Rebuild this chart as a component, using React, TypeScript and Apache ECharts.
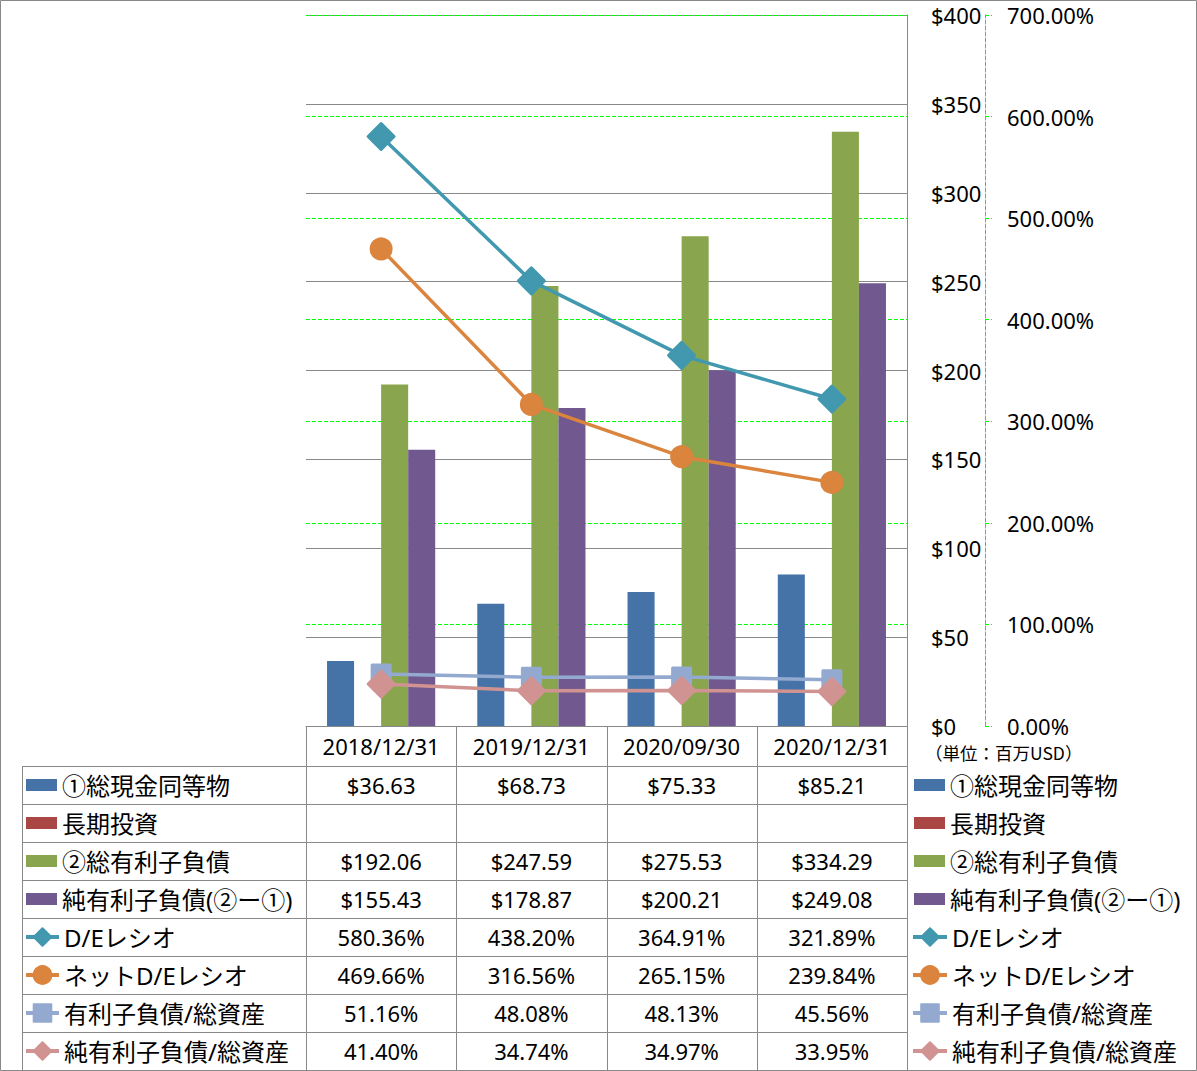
import React, { useEffect, useRef } from "react";
import * as echarts from "echarts";

const categories = ["2018/12/31", "2019/12/31", "2020/09/30", "2020/12/31"];
const cashEq = [36.63, 68.73, 75.33, 85.21];
const longInvest: (number | null)[] = [null, null, null, null];
const totalDebt = [192.06, 247.59, 275.53, 334.29];
const netDebt = [155.43, 178.87, 200.21, 249.08];
const deRatio = [580.36, 438.2, 364.91, 321.89];
const netDeRatio = [469.66, 316.56, 265.15, 239.84];
const debtToAssets = [51.16, 48.08, 48.13, 45.56];
const netDebtToAssets = [41.4, 34.74, 34.97, 33.95];

const barNames = ["①総現金同等物", "長期投資", "②総有利子負債", "純有利子負債(②ー①)"];
const lineNames = ["D/Eレシオ", "ネットD/Eレシオ", "有利子負債/総資産", "純有利子負債/総資産"];
const barColors = ["#4572A7", "#AA4643", "#89A54E", "#71588F"];
const lineColors = ["#4198AF", "#DB843D", "#93A9CF", "#D19392"];

const usdTicks = { min: 0, max: 400, interval: 50 };
const pctTicks = { min: 0, max: 700, interval: 100 };
const unitLabel = "（単位：百万USD）";

const W = 1197;
const H = 1071;
const GL = 306;
const GR = 907;
const GT = 15;
const GB = 726;
const ROW0 = 766;
const ROWH = 38;
const GRAY = "#898989";
const GREEN = "#00FF00";
const FONT = "'Noto Sans', 'Noto Sans CJK JP', sans-serif";
const CJK = "'Noto Sans CJK JP', 'Noto Sans', sans-serif";

export default function App() {
  const ref = useRef<HTMLDivElement>(null);

  useEffect(() => {
    if (!ref.current) return;
    const chart = echarts.init(ref.current, undefined, { renderer: "svg" });

    const barData = [cashEq, longInvest, totalDebt, netDebt];
    const lineData = [deRatio, netDeRatio, debtToAssets, netDebtToAssets];
    const symbols = ["diamond", "circle", "rect", "diamond"];
    const symbolSizes = [26, 20, 18, 26];

    const fmtUsd = (v: number | null) => (v == null ? "" : "$" + v.toFixed(2));
    const fmtPct = (v: number | null) => (v == null ? "" : v.toFixed(2) + "%");

    const colW = (GR - GL) / categories.length;
    const graphics: any[] = [];
    const px = (v: number) => Math.round(v) + 0.5;

    graphics.push({
      type: "rect",
      shape: { x: 0.5, y: 0.5, width: W - 1, height: H - 1 },
      style: { fill: "none", stroke: GRAY, lineWidth: 1 },
      silent: true,
    });
    const nRows = barNames.length + lineNames.length;
    for (let k = 0; k <= nRows; k++) {
      const y = px(ROW0 + k * ROWH);
      graphics.push({
        type: "line",
        shape: { x1: 22, y1: y, x2: GR, y2: y },
        style: { stroke: GRAY, lineWidth: 1 },
        silent: true,
      });
    }
    graphics.push({
      type: "line",
      shape: { x1: 22.5, y1: ROW0, x2: 22.5, y2: ROW0 + nRows * ROWH },
      style: { stroke: GRAY, lineWidth: 1 },
      silent: true,
    });
    for (let j = 0; j <= categories.length; j++) {
      const x = px(GL + j * colW);
      graphics.push({
        type: "line",
        shape: { x1: x, y1: GB, x2: x, y2: ROW0 + nRows * ROWH },
        style: { stroke: GRAY, lineWidth: 1 },
        silent: true,
      });
    }
    const allRows: { vals: (number | null)[]; fmt: (v: number | null) => string }[] = [
      ...barData.map((vals) => ({ vals, fmt: fmtUsd })),
      ...lineData.map((vals) => ({ vals, fmt: fmtPct })),
    ];
    allRows.forEach((row, i) => {
      row.vals.forEach((v, j) => {
        graphics.push({
          type: "text",
          x: GL + (j + 0.5) * colW,
          y: ROW0 + (i + 0.5) * ROWH,
          style: {
            text: row.fmt(v),
            align: "center",
            verticalAlign: "middle",
            fontSize: 22,
            fontFamily: FONT,
            fill: "#000",
          },
          silent: true,
        });
      });
    });
    graphics.push({
      type: "text",
      x: 925,
      y: 752,
      style: {
        text: unitLabel,
        align: "left",
        verticalAlign: "middle",
        fontSize: 17.5,
        fontFamily: CJK,
        fill: "#000",
      },
      silent: true,
    });

    const legendBase = {
      orient: "vertical",
      padding: 0,
      itemGap: 14,
      selectedMode: false,
      textStyle: { fontSize: 24, lineHeight: 24, fontFamily: FONT, color: "#000" },
    };

    const series: any[] = [];
    barNames.forEach((name, i) => {
      series.push({
        name,
        type: "bar",
        yAxisIndex: 0,
        data: barData[i],
        barGap: "0%",
        barCategoryGap: "28%",
        itemStyle: { color: barColors[i] },
        z: 2,
      });
    });
    lineNames.forEach((name, i) => {
      series.push({
        name,
        type: "line",
        yAxisIndex: 1,
        data: lineData[i],
        symbol: symbols[i],
        symbolSize: symbolSizes[i],
        showSymbol: true,
        lineStyle: { color: lineColors[i], width: 3.5 },
        itemStyle: {
          color: lineColors[i],
          borderColor: lineColors[i],
          borderWidth: 3,
          borderJoin: "round",
        },
        z: 3 + i,
      });
    });

    chart.setOption({
      animation: false,
      backgroundColor: "#ffffff",
      textStyle: { fontFamily: FONT },
      grid: { left: GL, right: W - GR, top: GT, bottom: H - GB, containLabel: false },
      legend: [
        { ...legendBase, data: barNames, left: 26, top: 773, itemWidth: 31, itemHeight: 12, icon: "rect" },
        { ...legendBase, data: lineNames, left: 24, top: 925, itemWidth: 33, itemHeight: 22, lineStyle: { width: 4 } },
        { ...legendBase, data: barNames, left: 914, top: 773, itemWidth: 31, itemHeight: 12, icon: "rect" },
        { ...legendBase, data: lineNames, left: 911, top: 925, itemWidth: 34, itemHeight: 22, lineStyle: { width: 4 } },
      ],
      xAxis: {
        type: "category",
        data: categories,
        boundaryGap: true,
        axisLine: { show: true, lineStyle: { color: GRAY, width: 1 } },
        axisTick: { show: false },
        axisLabel: {
          interval: 0,
          hideOverlap: false,
          fontSize: 22,
          color: "#000",
          margin: 20,
          verticalAlign: "middle",
          fontFamily: FONT,
        },
        splitLine: { show: false },
      },
      yAxis: [
        {
          type: "value",
          position: "right",
          min: usdTicks.min,
          max: usdTicks.max,
          interval: usdTicks.interval,
          axisLine: { show: true, lineStyle: { color: GRAY, width: 1 } },
          axisTick: { show: false },
          axisLabel: {
            margin: 24,
            fontSize: 22,
            color: "#000",
            fontFamily: FONT,
            formatter: (v: number) => "$" + v,
          },
          splitLine: { show: true, lineStyle: { color: GRAY, width: 1, type: "solid" } },
        },
        {
          type: "value",
          position: "right",
          offset: 78,
          min: pctTicks.min,
          max: pctTicks.max,
          interval: pctTicks.interval,
          axisLine: { show: true, lineStyle: { color: GREEN, width: 1, type: [4, 2] } },
          axisTick: { show: true, length: 7, lineStyle: { color: GREEN, width: 1, type: [4, 2] } },
          axisLabel: {
            margin: 22,
            fontSize: 22,
            color: "#000",
            fontFamily: FONT,
            formatter: (v: number) => v.toFixed(2) + "%",
          },
          splitLine: { show: true, lineStyle: { color: GREEN, width: 1, type: [4, 2] } },
        },
      ],
      graphic: graphics,
      series,
    });

    return () => chart.dispose();
  }, []);

  return (
    <div
      ref={ref}
      style={{ position: "absolute", left: 0, top: 0, width: W, height: H }}
    />
  );
}
